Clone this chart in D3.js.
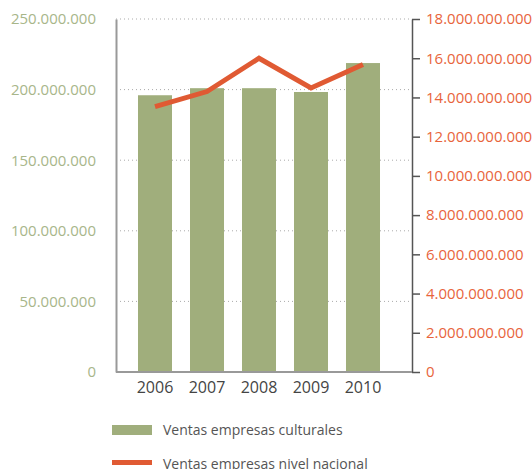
<!DOCTYPE html>
<html>
<head>
<meta charset="utf-8">
<script src="https://cdn.jsdelivr.net/npm/d3@7"></script>
<style>
  html, body { margin: 0; padding: 0; background: #fff; }
  svg { display: block; font-family: "Open Sans", "DejaVu Sans", sans-serif; }
</style>
</head>
<body>
<svg id="chart" width="532" height="469"></svg>
<script>
// Ventas anuales: empresas culturales (barras) y nivel nacional (línea)
const years = ["2006", "2007", "2008", "2009", "2010"];
const ventasCulturales = [196000000, 201000000, 201000000, 198300000, 218800000];
const ventasNacional = [13530000000, 14300000000, 16000000000, 14480000000, 15680000000];
const leftTicks = [0, 50000000, 100000000, 150000000, 200000000, 250000000];
const rightTicks = [0, 2e9, 4e9, 6e9, 8e9, 10e9, 12e9, 14e9, 16e9, 18e9];
const legendLabels = ["Ventas empresas culturales", "Ventas empresas nivel nacional"];

const svg = d3.select("#chart");
const plotLeft = 116, plotRight = 412, plotTop = 19, plotBottom = 372;

const fmt = v => v === 0 ? "0" : d3.format(",")(v).replace(/,/g, ".");

const x = d3.scaleBand().domain(years).range([129, 389])
  .paddingInner(0.346).paddingOuter(0.173);
const yL = d3.scaleLinear().domain([0, 250000000]).range([plotBottom, plotTop]);
const yR = d3.scaleLinear().domain([0, 18e9]).range([plotBottom, plotTop]);

// dotted gridlines
svg.append("g").selectAll("line").data(leftTicks.filter(d => d > 0)).join("line")
  .attr("x1", plotLeft).attr("x2", plotRight)
  .attr("y1", d => yL(d)).attr("y2", d => yL(d))
  .attr("stroke", "#aaaaaa").attr("stroke-width", 1)
  .attr("stroke-dasharray", "1,3");

// bars
svg.append("g").selectAll("rect").data(years).join("rect")
  .attr("x", d => x(d))
  .attr("width", x.bandwidth())
  .attr("y", (d, i) => yL(ventasCulturales[i]))
  .attr("height", (d, i) => plotBottom - yL(ventasCulturales[i]))
  .attr("fill", "#a0ae7c");

// left axis
const gL = svg.append("g").attr("transform", `translate(${plotLeft},0)`)
  .call(d3.axisLeft(yL).tickValues(leftTicks).tickFormat(fmt).tickSize(0).tickPadding(20));
gL.select(".domain").attr("stroke", "#999999").attr("stroke-width", 2);
gL.selectAll("text").attr("fill", "#a8b68a").style("font-size", "15px")
  .attr("font-family", "'Open Sans', sans-serif");

// right axis
const gR = svg.append("g").attr("transform", `translate(${plotRight},0)`)
  .call(d3.axisRight(yR).tickValues(rightTicks).tickFormat(fmt).tickSizeInner(8).tickSizeOuter(0).tickPadding(6));
gR.select(".domain").attr("stroke", "#555555").attr("stroke-width", 1.5);
gR.selectAll(".tick line").attr("stroke", "#555555").attr("stroke-width", 1.5);
gR.selectAll("text").attr("fill", "#e8643c").style("font-size", "15px")
  .attr("font-family", "'Open Sans', sans-serif");

// bottom axis
const gB = svg.append("g").attr("transform", `translate(0,${plotBottom})`)
  .call(d3.axisBottom(x).tickSize(0).tickPadding(10));
gB.select(".domain").attr("d", `M${plotLeft},0H${plotRight}`).attr("stroke", "#999999").attr("stroke-width", 2);
gB.selectAll("text").attr("fill", "#444444").style("font-size", "16px")
  .attr("font-family", "'Open Sans', sans-serif");

// national sales line
const line = d3.line()
  .x((d, i) => x(years[i]) + x.bandwidth() / 2)
  .y(d => yR(d));
svg.append("path").datum(ventasNacional)
  .attr("d", line)
  .attr("fill", "none")
  .attr("stroke", "#e05a33")
  .attr("stroke-width", 5);

// legend
const lg = svg.append("g");
lg.append("rect").attr("x", 112).attr("y", 425).attr("width", 40).attr("height", 10).attr("fill", "#a0ae7c");
lg.append("rect").attr("x", 112).attr("y", 460).attr("width", 40).attr("height", 5).attr("fill", "#e05a33");
lg.selectAll("text").data(legendLabels).join("text")
  .attr("x", 163)
  .attr("y", (d, i) => 430 + i * 34)
  .attr("dy", "0.35em")
  .attr("fill", "#555555")
  .style("font-size", "14px")
  .text(d => d);
</script>
</body>
</html>
